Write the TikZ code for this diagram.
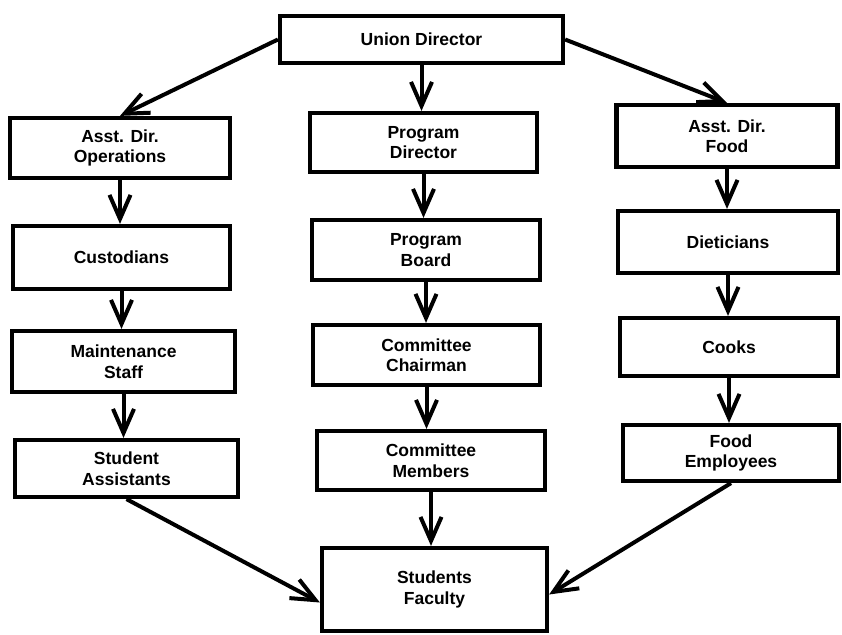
\documentclass[tikz,border=0pt]{standalone}
\usepackage{fontspec}
\setmainfont{Liberation Sans}
\usetikzlibrary{arrows.meta}
\begin{document}
\begin{tikzpicture}[x=1pt,y=-1pt,
  box/.style={draw, line width=4.2pt, align=center, inner sep=0pt,
    font=\bfseries\fontsize{17.5}{20.5}\selectfont},
  arr/.style={line width=4pt,
    -{Straight Barb[length=24pt,width=21pt,line width=4pt]}}]
\useasboundingbox (0,0) rectangle (842,634);
\node[box, minimum width=283pt, minimum height=47pt] (ud) at (421.5,39.5) {Union Director};
\node[box, minimum width=220pt, minimum height=60pt] (ops) at (120,148) {Asst. Dir.\\Operations};
\node[box, minimum width=227pt, minimum height=59pt] (pd) at (423.5,142.5) {Program\\Director};
\node[box, minimum width=221pt, minimum height=62pt] (food) at (727,136) {Asst. Dir.\\Food};
\node[box, minimum width=217pt, minimum height=63pt] (cust) at (121.5,257.5) {Custodians};
\node[box, minimum width=228pt, minimum height=60pt] (pb) at (426,250) {Program\\Board};
\node[box, minimum width=220pt, minimum height=62pt] (diet) at (728,242) {Dieticians};
\node[box, minimum width=223pt, minimum height=61pt] (maint) at (123.5,361.5) {Maintenance\\Staff};
\node[box, minimum width=227pt, minimum height=60pt] (chair) at (426.5,355) {Committee\\Chairman};
\node[box, minimum width=218pt, minimum height=58pt] (cooks) at (729,347) {Cooks};
\node[box, minimum width=223pt, minimum height=57pt] (sa) at (126.5,468.5) {Student\\Assistants};
\node[box, minimum width=228pt, minimum height=59pt] (mem) at (431,460.5) {Committee\\Members};
\node[box, minimum width=216pt, minimum height=56pt] (fe) at (731,453) {Food\\Employees};
\node[box, minimum width=225pt, minimum height=83pt] (sf) at (434.5,589.5) {Students\\Faculty};

\draw[arr] (ud.west) -- (ops.north);
\draw[arr] (ud.south) -- (ud.south |- pd.north);
\draw[arr] (ud.east) -- (food.north);

\draw[arr] (ops.south) -- (ops.south |- cust.north);
\draw[arr] (cust.south) -- (cust.south |- maint.north);
\draw[arr] (maint.south) -- (maint.south |- sa.north);

\draw[arr] (pd.south) -- (pd.south |- pb.north);
\draw[arr] (pb.south) -- (pb.south |- chair.north);
\draw[arr] (chair.south) -- (chair.south |- mem.north);
\draw[arr] (mem.south) -- (mem.south |- sf.north);

\draw[arr] (food.south) -- (food.south |- diet.north);
\draw[arr] (diet.south) -- (diet.south |- cooks.north);
\draw[arr] (cooks.south) -- (cooks.south |- fe.north);

\draw[arr] (sa.south) -- ([yshift=-13pt]sf.west);
\draw[arr] (fe.south) -- ([yshift=-5pt]sf.east);
\end{tikzpicture}
\end{document}
